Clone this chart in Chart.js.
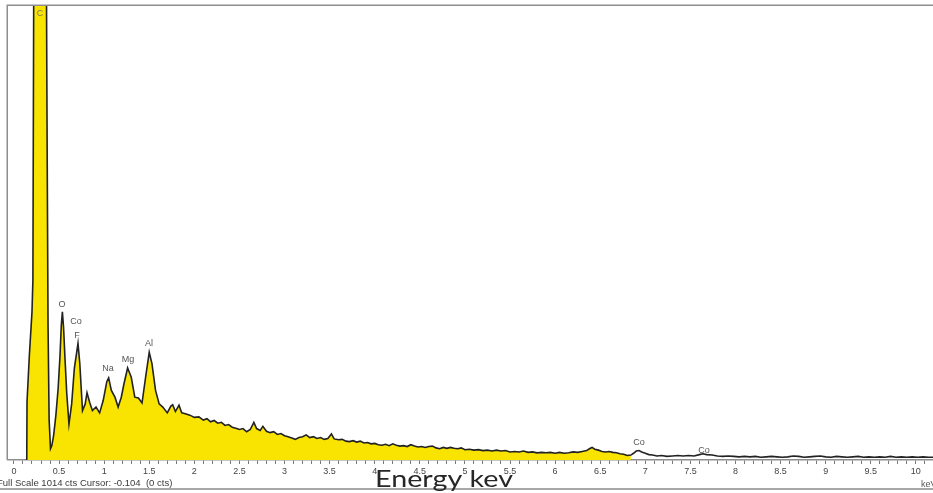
<!DOCTYPE html>
<html>
<head>
<meta charset="utf-8">
<script src="https://cdn.jsdelivr.net/npm/chart.js@4.4.1/dist/chart.umd.min.js"></script>
<style>
  html, body { margin: 0; padding: 0; background: #ffffff; overflow: hidden; }
  canvas { display: block; }
</style>
</head>
<body>
<canvas id="spectrum" width="933" height="493"></canvas>
<script>
// EDS spectrum: energy (keV) and counts per channel
const energyKeV = [
  0.142, 0.145, 0.17, 0.20, 0.21, 0.22, 0.25, 0.28, 0.32, 0.355,
  0.368, 0.378, 0.39, 0.405, 0.42, 0.44, 0.465, 0.49, 0.51, 0.525,
  0.537, 0.55, 0.565, 0.585, 0.61, 0.64, 0.67, 0.71, 0.73, 0.76,
  0.79, 0.81, 0.84, 0.87, 0.91, 0.95, 0.99, 1.03, 1.05, 1.08,
  1.12, 1.155, 1.19, 1.22, 1.26, 1.30, 1.34, 1.38, 1.42, 1.46,
  1.50, 1.53, 1.57, 1.61, 1.65, 1.70, 1.74, 1.76, 1.79, 1.83,
  1.86, 1.90, 1.95, 2.00,
  2.05, 2.10, 2.14, 2.18, 2.22, 2.26, 2.30, 2.34, 2.38, 2.42,
  2.46, 2.50, 2.54, 2.58, 2.62, 2.66, 2.69, 2.73, 2.76, 2.80,
  2.84, 2.88, 2.92, 2.96, 3.00, 3.04, 3.08, 3.12, 3.16, 3.20,
  3.24, 3.28, 3.32, 3.36, 3.40, 3.44, 3.48, 3.52, 3.55, 3.60,
  3.64, 3.68, 3.72, 3.76, 3.80, 3.84, 3.88, 3.92, 3.96, 4.00,
  4.04, 4.08, 4.12, 4.16, 4.20, 4.24, 4.28, 4.32, 4.36, 4.40,
  4.44, 4.48, 4.52, 4.56, 4.60, 4.64, 4.68, 4.72, 4.76, 4.80,
  4.84, 4.88, 4.92, 4.96, 5.00, 5.05, 5.10, 5.15, 5.20, 5.25,
  5.30, 5.35, 5.40, 5.45, 5.50, 5.55, 5.60, 5.65, 5.70, 5.75,
  5.80, 5.85, 5.90, 5.95, 6.00, 6.05, 6.10, 6.15, 6.20, 6.25,
  6.30, 6.35, 6.38, 6.41, 6.44, 6.48, 6.52, 6.56, 6.60, 6.64,
  6.68, 6.72, 6.76, 6.80, 6.84, 6.87, 6.90, 6.93, 6.96, 7.00,
  7.04, 7.08, 7.13, 7.18, 7.24, 7.30, 7.36, 7.42, 7.48, 7.54,
  7.60, 7.64, 7.68, 7.74, 7.80, 7.86, 7.92, 7.98, 8.04, 8.10,
  8.16, 8.22, 8.28, 8.34, 8.40, 8.46, 8.52, 8.58, 8.64, 8.70,
  8.76, 8.82, 8.88, 8.94, 9.00, 9.06, 9.12, 9.18, 9.24, 9.30,
  9.36, 9.42, 9.48, 9.54, 9.60, 9.66, 9.72, 9.78, 9.84, 9.90,
  9.96, 10.02, 10.08, 10.14, 10.20
];

const counts = [
  0, 130, 230, 330, 400, 1100, 1500, 1600, 1500, 1300,
  700, 300, 90, 25, 32, 55, 100, 160, 230, 300,
  330, 295, 230, 150, 80, 125, 205, 260, 215, 110,
  125, 150, 128, 110, 118, 105, 133, 175, 183, 155,
  140, 118, 140, 170, 205, 185, 140, 138, 127, 185,
  240, 215, 155, 125, 118, 105, 120, 123, 108, 122,
  105, 103, 100, 95,
  96, 89, 92, 85, 88, 82, 84, 77, 79, 73,
  71, 68, 70, 63, 68, 84, 70, 66, 75, 64,
  61, 63, 57, 59, 54, 52, 49, 46, 50, 52,
  56, 50, 52, 48, 50, 46, 48, 58, 47, 45,
  46, 42, 41, 43, 40, 42, 38, 39, 36, 37,
  34, 33, 35, 32, 36, 33, 31, 32, 30, 34,
  31, 29, 30, 28, 30, 31, 27, 25, 28, 26,
  28, 26, 25, 27, 23, 24, 22, 23, 21, 22,
  20, 22, 20, 21, 18, 19, 18, 20, 17, 18,
  16, 17, 16, 17, 15, 17, 15, 16, 18, 17,
  19, 21, 25, 28, 24, 22, 19, 18, 19, 17,
  16, 14, 13, 10, 11, 15, 20, 21, 18, 15,
  12, 11, 9, 10, 8, 9, 10, 9, 10, 9,
  12, 14, 12, 11, 9, 8, 9, 8, 7, 8,
  7, 8, 6, 7, 8, 7, 6, 7, 9, 8,
  6, 7, 8, 9, 7, 6, 8, 7, 6, 7,
  8, 6, 7, 6, 7, 6, 8, 6, 7, 6,
  7, 6, 7, 6, 6
];

// Full-scale count and the upper end of the highlighted (filled) energy window
const fullScaleCounts = 1014;
const highlightEndKeV = 6.85;
const cursorKeV = -0.104;
const cursorCounts = 0;

// Element identification markers: name, energy, and level (counts) for the tag
const peakNames  = ['C', 'O', 'Co', 'F', 'Na', 'Mg', 'Al', 'Co', 'Co'];
const peakEnergy = [0.288, 0.532, 0.687, 0.698, 1.042, 1.264, 1.497, 6.93, 7.65];
const peakLevel  = [995, 346, 308, 277, 203, 225, 259, 38, 22];

const spectrumPoints = energyKeV.map((e, i) => ({ x: e, y: counts[i] }));
const highlightPoints = spectrumPoints.filter(p => p.x <= highlightEndKeV);

// Frame, element tags and the footer texts
const decorations = {
  id: 'decorations',
  afterDraw(chart) {
    const { ctx, chartArea: a, scales } = chart;
    ctx.save();

    // plot frame (left and top)
    ctx.strokeStyle = '#8e8e8e';
    ctx.lineWidth = 1.5;
    ctx.beginPath();
    ctx.moveTo(a.left - 0.75, a.bottom);
    ctx.lineTo(a.left - 0.75, a.top + 0.25);
    ctx.lineTo(a.right, a.top + 0.25);
    ctx.stroke();

    // element tags
    ctx.font = '9px "Liberation Sans", Arial, sans-serif';
    ctx.textAlign = 'center';
    ctx.textBaseline = 'middle';
    peakNames.forEach((name, i) => {
      ctx.fillStyle = i === 0 ? '#7d7560' : '#555555';
      ctx.fillText(name, scales.x.getPixelForValue(peakEnergy[i]), scales.y.getPixelForValue(peakLevel[i]));
    });

    // status line
    ctx.textAlign = 'left';
    ctx.textBaseline = 'alphabetic';
    ctx.fillStyle = '#3a3a3a';
    ctx.font = '9.5px "Liberation Sans", Arial, sans-serif';
    ctx.fillText('Full Scale ' + fullScaleCounts + ' cts Cursor: ' + cursorKeV.toFixed(3) + '  (' + cursorCounts + ' cts)', -3, 486);

    // unit at the end of the axis
    ctx.font = '9px "Liberation Sans", Arial, sans-serif';
    ctx.fillStyle = '#555555';
    ctx.fillText('keV', 921, 487);

    // bottom rule
    ctx.strokeStyle = '#a8a8a8';
    ctx.lineWidth = 2;
    ctx.beginPath();
    ctx.moveTo(0, 489);
    ctx.lineTo(chart.width, 489);
    ctx.stroke();

    // axis caption
    const caption = 'Energy kev';
    ctx.font = '23px Lato, "Open Sans", sans-serif';
    ctx.fillStyle = '#262626';
    const w = ctx.measureText(caption).width;
    const targetW = 138;
    ctx.translate(375, 487);
    ctx.scale(targetW / w, 1);
    ctx.fillText(caption, 0, 0);

    ctx.restore();
  }
};

new Chart(document.getElementById('spectrum'), {
  type: 'line',
  data: {
    datasets: [
      {
        data: spectrumPoints,
        borderColor: '#222222',
        borderWidth: 1.6,
        pointRadius: 0,
        fill: false,
        tension: 0,
        order: 0
      },
      {
        data: highlightPoints,
        borderWidth: 0,
        borderColor: 'rgba(0,0,0,0)',
        backgroundColor: '#f8e400',
        pointRadius: 0,
        fill: 'origin',
        tension: 0,
        order: 1
      }
    ]
  },
  options: {
    responsive: false,
    animation: false,
    events: [],
    layout: { padding: { left: 8, top: 5, right: 0, bottom: 0 } },
    plugins: { legend: { display: false }, tooltip: { enabled: false } },
    scales: {
      x: {
        type: 'linear',
        min: -0.066,
        max: 10.19,
        afterFit(scale) { scale.height = 33; },
        border: { display: true, color: '#8e8e8e', width: 1.5 },
        grid: { drawOnChartArea: false, drawTicks: true, tickLength: 4, color: '#7a7a7a', lineWidth: 1 },
        ticks: {
          stepSize: 0.1,
          autoSkip: false,
          includeBounds: false,
          maxRotation: 0,
          minRotation: 0,
          padding: 2,
          color: '#444444',
          font: { family: '"Liberation Sans", Arial, sans-serif', size: 9 },
          callback(v) {
            const h = Math.round(v * 2);
            if (Math.abs(v * 2 - h) > 1e-6) return '';
            return String(h / 2);
          }
        }
      },
      y: { display: false, min: 0, max: fullScaleCounts }
    }
  },
  plugins: [decorations]
});
</script>
</body>
</html>
